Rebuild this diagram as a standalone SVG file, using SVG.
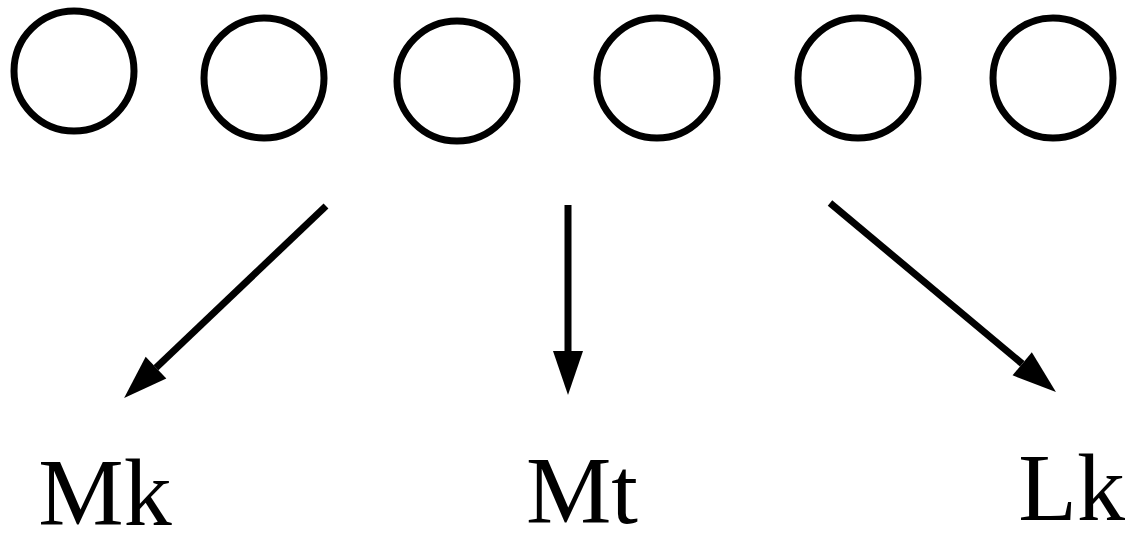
<svg xmlns="http://www.w3.org/2000/svg" width="1130" height="547" viewBox="0 0 1130 547">
<style>
.node circle{fill:none;stroke:#000;stroke-width:7}
.edge{stroke:#000;stroke-width:7;fill:none}
.lbl{font-family:"Liberation Serif","DejaVu Serif",serif;font-size:96px;fill:#000}
</style>
<defs>
<marker id="ah" markerUnits="userSpaceOnUse" markerWidth="46" markerHeight="32" refX="0" refY="15" orient="auto" overflow="visible">
<path d="M0,0 L44,15 L0,30 Z" fill="#000"/>
</marker>
</defs>
<rect width="1130" height="547" fill="#fff"/>
<g id="n1" class="node"><circle cx="74" cy="71" r="60"/></g>
<g id="n2" class="node"><circle cx="264" cy="78" r="60"/></g>
<g id="n3" class="node"><circle cx="457" cy="81" r="60"/></g>
<g id="n4" class="node"><circle cx="657" cy="78" r="60"/></g>
<g id="n5" class="node"><circle cx="858" cy="78" r="60"/></g>
<g id="n6" class="node"><circle cx="1053" cy="78" r="60"/></g>
<g id="connectors">
<line class="edge" x1="326" y1="206" x2="156" y2="367.7" marker-end="url(#ah)"/>
<line class="edge" x1="568" y1="205" x2="568" y2="351" marker-end="url(#ah)"/>
<line class="edge" x1="830" y1="203" x2="1022.2" y2="363.8" marker-end="url(#ah)"/>
</g>
<g id="t1"><text class="lbl" x="105" y="525" text-anchor="middle">Mk</text></g>
<g id="t2"><text class="lbl" x="582" y="523" text-anchor="middle">Mt</text></g>
<g id="t3"><text class="lbl" x="1125" y="520" text-anchor="end">Lk</text></g>
</svg>
